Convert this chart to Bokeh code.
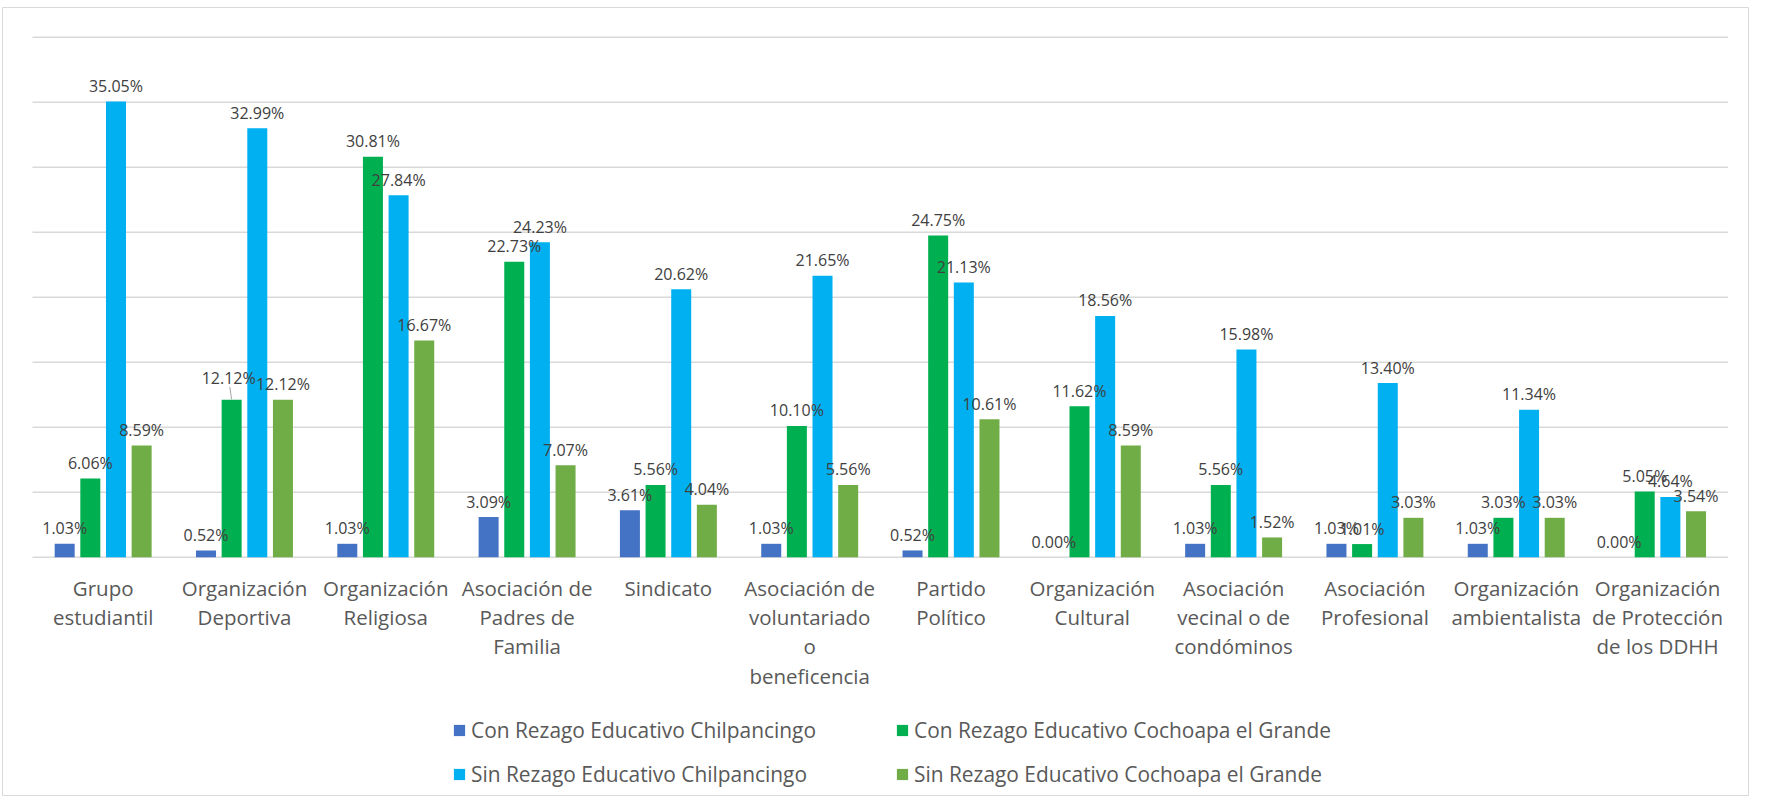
from bokeh.plotting import figure
from bokeh.models import Range1d, ColumnDataSource, Legend, LegendItem
from bokeh.core.properties import value
from bokeh.embed import file_html
from bokeh.resources import INLINE

# ---------------- data ----------------
categories = [
    "Grupo estudiantil", "Organización Deportiva", "Organización Religiosa",
    "Asociación de Padres de Familia", "Sindicato",
    "Asociación de voluntariado o beneficencia", "Partido Político",
    "Organización Cultural", "Asociación vecinal o de condóminos",
    "Asociación Profesional", "Organización ambientalista",
    "Organización de Protección de los DDHH",
]
tick_labels = [
    "Grupo\nestudiantil", "Organización\nDeportiva", "Organización\nReligiosa",
    "Asociación de\nPadres de\nFamilia", "Sindicato",
    "Asociación de\nvoluntariado\no\nbeneficencia", "Partido\nPolítico",
    "Organización\nCultural", "Asociación\nvecinal o de\ncondóminos",
    "Asociación\nProfesional", "Organización\nambientalista",
    "Organización\nde Protección\nde los DDHH",
]
series_names = [
    "Con Rezago Educativo Chilpancingo",
    "Con Rezago Educativo Cochoapa el Grande",
    "Sin Rezago Educativo Chilpancingo",
    "Sin Rezago Educativo Cochoapa el Grande",
]
con_chilpancingo = [1.03, 0.52, 1.03, 3.09, 3.61, 1.03, 0.52, 0.00, 1.03, 1.03, 1.03, 0.00]
con_cochoapa = [6.06, 12.12, 30.81, 22.73, 5.56, 10.10, 24.75, 11.62, 5.56, 1.01, 3.03, 5.05]
sin_chilpancingo = [35.05, 32.99, 27.84, 24.23, 20.62, 21.65, 21.13, 18.56, 15.98, 13.40, 11.34, 4.64]
sin_cochoapa = [8.59, 12.12, 16.67, 7.07, 4.04, 5.56, 10.61, 8.59, 1.52, 3.03, 3.03, 3.54]
grid_ticks = [0, 5, 10, 15, 20, 25, 30, 35, 40]

series = [con_chilpancingo, con_cochoapa, sin_chilpancingo, sin_cochoapa]
colors = ["#4472C4", "#00B050", "#00B0F0", "#70AD47"]

# ---------------- layout constants ----------------
W, H = 1749, 796
TOP = 7                # frame top (canvas px)
PX_X = 141.31          # pixels per category
PX_Y = 13.0            # pixels per percent
BASE = 556.7           # baseline (canvas px)
n = len(categories)

p = figure(width=W, height=H, output_backend="svg", toolbar_location=None,
           x_axis_type=None, y_axis_type=None,
           min_border_left=2, min_border_right=0, min_border_top=TOP, min_border_bottom=0,
           x_range=Range1d(-30 / PX_X, n + (1757 - 1735.7) / PX_X),
           y_range=Range1d(-(H - BASE) / PX_Y, (BASE - TOP) / PX_Y))
p.outline_line_color = "#D9D9D9"
p.outline_line_width = 1
p.background_fill_color = "white"
p.border_fill_color = "white"

# gridlines across the plot area only
p.segment(x0=[0] * len(grid_ticks), x1=[n] * len(grid_ticks), y0=grid_ticks, y1=grid_ticks,
          line_color="#D9D9D9", line_width=1.5)

bar_w = 20 / PX_X
step = 25.65 / PX_X
offsets = [(k - 1.5) * step for k in range(4)]

renderers = []
for k, (vals, col) in enumerate(zip(series, colors)):
    xs = [i + 0.5 + offsets[k] for i in range(n)]
    src = ColumnDataSource(dict(x=xs, top=vals))
    r = p.vbar(x="x", top="top", width=bar_w, fill_color=col, line_color=None, source=src)
    renderers.append(r)

# data labels (one moved label with leader line: Organización Deportiva / Con Rezago Cochoapa)
moved = {(1, 1): (-3, -6)}
for k, vals in enumerate(series):
    xs, ys, txt, xo, yo = [], [], [], [], []
    for i, v in enumerate(vals):
        dx, dy = moved.get((i, k), (0, 0))
        xs.append(i + 0.5 + offsets[k])
        ys.append(v)
        txt.append(f"{v:.2f}%")
        xo.append(dx)
        yo.append(-15.5 + dy)
    src = ColumnDataSource(dict(x=xs, y=ys, t=txt, xo=xo, yo=yo))
    p.text(x="x", y="y", text="t", x_offset="xo", y_offset="yo", source=src,
           text_align="center", text_baseline="alphabetic",
           text_font=value("Open Sans"), text_font_size="16px", text_color="#404040")

for (i, k), (dx, dy) in moved.items():
    bx = i + 0.5 + offsets[k]
    v = series[k][i]
    p.segment(x0=[bx - 1.8 / PX_X], y0=[v + 12.6 / PX_Y], x1=[bx], y1=[v + 0.2 / PX_Y],
              line_color="#A6A6A6", line_width=1)

# category labels
p.text(x=[i + 0.5 for i in range(n)], y=[0] * n, text=tick_labels,
       text_align="center", text_baseline="top", y_offset=17, text_line_height=1.04,
       text_font=value("Open Sans"), text_font_size="20.5px", text_color="#595959")

legend = Legend(items=[LegendItem(label=name, renderers=[r]) for name, r in zip(series_names, renderers)],
                location=(450, 8), orientation="horizontal", ncols=2,
                glyph_width=14, glyph_height=14, label_standoff=5, label_width=408,
                label_height=28, spacing=16, padding=0, margin=0,
                border_line_color=None, background_fill_alpha=0,
                label_text_font="Open Sans", label_text_font_size="20.9px",
                label_text_color="#595959")
p.add_layout(legend)

open("out.html", "w").write(file_html(p, INLINE))
